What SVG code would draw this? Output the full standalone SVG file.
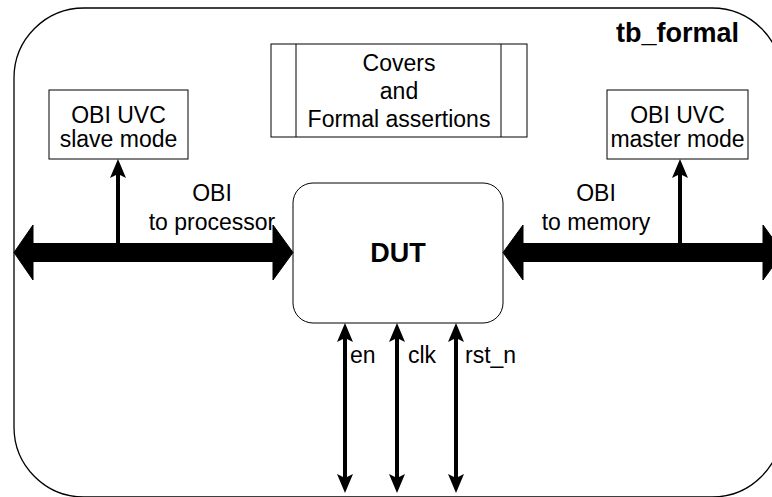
<svg xmlns="http://www.w3.org/2000/svg" width="772" height="497" viewBox="0 0 772 497">
<style>
.box{fill:#fff;stroke:#000;stroke-width:1}
.t{font-family:"Liberation Sans",Arial,sans-serif;font-size:23px;fill:#000;text-anchor:middle}
.tl{font-family:"Liberation Sans",Arial,sans-serif;font-size:23px;fill:#000}
.b{font-family:"Liberation Sans",Arial,sans-serif;font-size:27px;font-weight:bold;fill:#000}
.wire{stroke:#000;stroke-width:4;fill:none}
.bus{fill:#000;stroke:#000;stroke-width:1}
</style>
<defs>
<marker id="arr" viewBox="0 0 19 16" refX="8" refY="8" markerWidth="19" markerHeight="16" markerUnits="userSpaceOnUse" orient="auto-start-reverse">
<path d="M0,0 L19,8 L0,16 L4,8 z" fill="#000"/>
</marker>
</defs>
<rect width="772" height="497" fill="#fff"/>
<g id="tb_formal">
<rect x="14" y="8" width="768" height="489" rx="70" ry="70" fill="none" stroke="#000" stroke-width="1.3"/>
<text class="b" x="739" y="42" text-anchor="end">tb_formal</text>
</g>
<g id="covers">
<rect class="box" x="271" y="44" width="256" height="93"/>
<line x1="296" y1="44" x2="296" y2="137" stroke="#000" stroke-width="1"/>
<line x1="501" y1="44" x2="501" y2="137" stroke="#000" stroke-width="1"/>
<text class="t" x="399" y="71">Covers</text>
<text class="t" x="399" y="98.5">and</text>
<text class="t" x="399" y="126.5">Formal assertions</text>
</g>
<g id="uvc_slave">
<rect class="box" x="49" y="90" width="139" height="69"/>
<text class="t" x="118.5" y="122.5">OBI UVC</text>
<text class="t" x="118.5" y="147">slave mode</text>
</g>
<g id="uvc_master">
<rect class="box" x="607" y="90" width="141" height="69"/>
<text class="t" x="677.5" y="122.5">OBI UVC</text>
<text class="t" x="677.5" y="147">master mode</text>
</g>
<g id="dut">
<rect class="box" x="293" y="183" width="210" height="140" rx="20" ry="20"/>
<text class="b" x="398" y="262" text-anchor="middle">DUT</text>
</g>
<g id="connectors">
<polygon class="bus" points="14,252.5 33,225 33,243.5 273,243.5 273,225 293,252.5 273,280 273,261.5 33,261.5 33,280"/>
<polygon class="bus" points="503,252.5 523,225 523,243.5 763,243.5 763,225 783,252.5 763,280 763,261.5 523,261.5 523,280"/>
<line class="wire" x1="118" y1="244" x2="118" y2="170" marker-end="url(#arr)"/>
<line class="wire" x1="680" y1="244" x2="680" y2="170" marker-end="url(#arr)"/>
<line class="wire" x1="345" y1="334" x2="345" y2="482" marker-start="url(#arr)" marker-end="url(#arr)"/>
<line class="wire" x1="397" y1="334" x2="397" y2="482" marker-start="url(#arr)" marker-end="url(#arr)"/>
<line class="wire" x1="456" y1="334" x2="456" y2="482" marker-start="url(#arr)" marker-end="url(#arr)"/>
<text class="t" x="212" y="201">OBI</text>
<text class="t" x="212" y="229.5">to processor</text>
<text class="t" x="596" y="201">OBI</text>
<text class="t" x="596" y="229.5">to memory</text>
<text class="tl" x="350" y="363">en</text>
<text class="tl" x="408" y="363">clk</text>
<text class="tl" x="465" y="363">rst_n</text>
</g>
</svg>
